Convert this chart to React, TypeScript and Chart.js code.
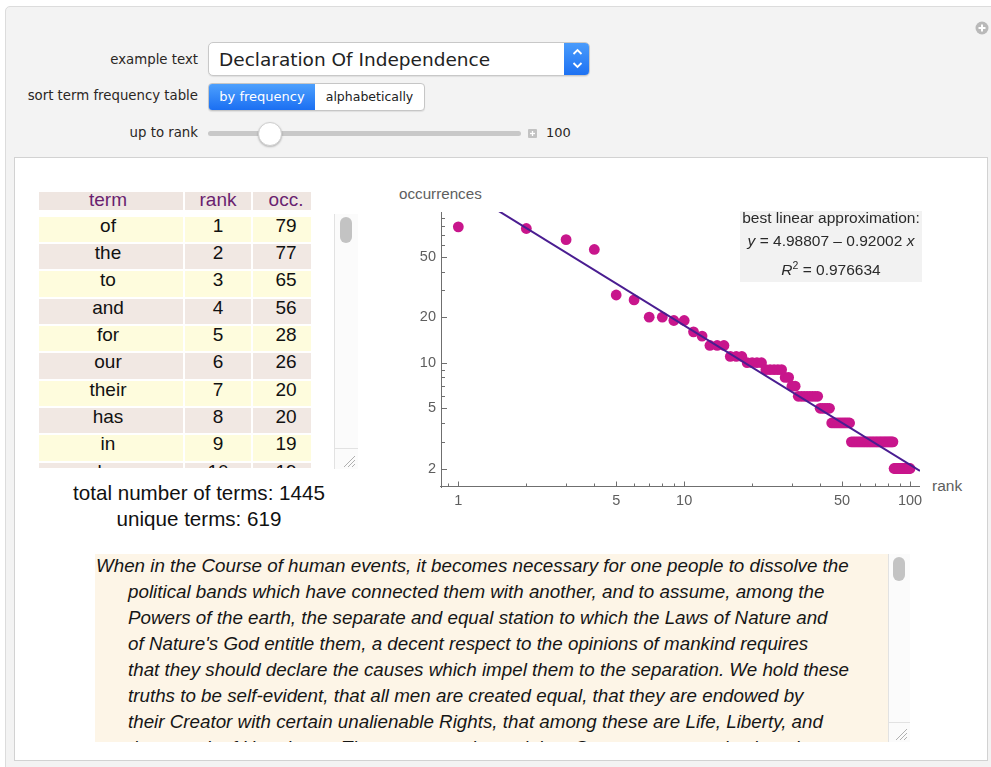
import React, { useEffect, useRef } from 'react';
import { Chart, registerables } from 'chart.js';

Chart.register(...registerables);

// ---------- chart data ----------
const ranks = [
  1, 2, 3, 4, 5, 6, 7, 8, 9, 10, 11, 12, 13, 14, 15, 16, 17, 18, 19, 20,
  21, 22, 23, 24, 25, 26, 27, 28, 29, 30, 31, 32, 33, 34, 35, 36, 37, 38, 39, 40,
  41, 42, 43, 44, 45, 46, 47, 48, 49, 50, 51, 52, 53, 54, 55, 56, 57, 58, 59, 60,
  61, 62, 63, 64, 65, 66, 67, 68, 69, 70, 71, 72, 73, 74, 75, 76, 77, 78, 79, 80,
  81, 82, 83, 84, 85, 86, 87, 88, 89, 90, 91, 92, 93, 94, 95, 96, 97, 98, 99, 100,
];
const occurrences = [
  79, 77, 65, 56, 28, 26, 20, 20, 19, 19, 16, 15, 13, 13, 13, 11, 11, 11, 10, 10,
  10, 10, 9, 9, 9, 9, 9, 8, 8, 7, 7, 6, 6, 6, 6, 6, 6, 6, 6, 5,
  5, 5, 5, 5, 4, 4, 4, 4, 4, 4, 4, 4, 4, 4, 3, 3, 3, 3, 3, 3,
  3, 3, 3, 3, 3, 3, 3, 3, 3, 3, 3, 3, 3, 3, 3, 3, 3, 3, 3, 3,
  3, 3, 3, 3, 2, 2, 2, 2, 2, 2, 2, 2, 2, 2, 2, 2, 2, 2, 2, 2,
];
const fitIntercept = 4.98807;
const fitSlope = -0.92002;
const rSquared = 0.976634;

const xTickValues = [0.9, 1, 2, 3, 4, 5, 6, 7, 8, 9, 10, 20, 30, 40, 50, 60, 70, 80, 90, 100];
const xTickLabels = [1, 5, 10, 50, 100];
const yTickValues = [2, 3, 4, 5, 6, 7, 8, 9, 10, 20, 30, 40, 50, 60, 70, 80, 90];
const yTickLabels = [2, 5, 10, 20, 50];
const X_MIN = 0.838;
const X_MAX = 110.7;
const Y_MIN = 1.533;
const Y_MAX = 99;

// ---------- table / text data ----------
const tableTerms = ['of', 'the', 'to', 'and', 'for', 'our', 'their', 'has', 'in', 'be'];
const tableRanks = [1, 2, 3, 4, 5, 6, 7, 8, 9, 10];
const tableOcc = [79, 77, 65, 56, 28, 26, 20, 20, 19, 19];
const totalTerms = 1445;
const uniqueTerms = 619;
const textLines = [
  'When in the Course of human events, it becomes necessary for one people to dissolve the',
  'political bands which have connected them with another, and to assume, among the',
  'Powers of the earth, the separate and equal station to which the Laws of Nature and',
  "of Nature's God entitle them, a decent respect to the opinions of mankind requires",
  'that they should declare the causes which impel them to the separation. We hold these',
  'truths to be self-evident, that all men are created equal, that they are endowed by',
  'their Creator with certain unalienable Rights, that among these are Life, Liberty, and',
  'the pursuit of Happiness. That to secure these rights, Governments are instituted among',
];

const SANS = "'Liberation Sans', Arial, Helvetica, sans-serif";
const UI = "'DejaVu Sans', 'Liberation Sans', sans-serif";
const AXIS_COLOR = '#6f6f6f';
const TICK_COLOR = '#5e5e5e';

const axesPlugin = {
  id: 'mmaAxes',
  beforeDatasetsDraw(chart: any) {
    const { ctx, chartArea, scales } = chart;
    const xs = scales.x;
    const ys = scales.y;
    const x0 = Math.round(chartArea.left) + 0.5;
    const y0 = Math.round(chartArea.bottom) + 0.5;
    ctx.save();
    ctx.strokeStyle = AXIS_COLOR;
    ctx.lineWidth = 1;
    ctx.beginPath();
    ctx.moveTo(x0, chartArea.top);
    ctx.lineTo(x0, y0 + 1.5);
    ctx.moveTo(x0 - 1.5, y0);
    ctx.lineTo(chartArea.right, y0);
    xTickValues.forEach((v) => {
      const px = Math.round(xs.getPixelForValue(v)) + 0.5;
      const len = xTickLabels.includes(v) ? 5 : 3;
      ctx.moveTo(px, y0);
      ctx.lineTo(px, y0 - len);
    });
    yTickValues.forEach((v) => {
      const py = Math.round(ys.getPixelForValue(v)) + 0.5;
      const len = yTickLabels.includes(v) ? 5.5 : 3.5;
      ctx.moveTo(x0, py);
      ctx.lineTo(x0 + len, py);
    });
    ctx.stroke();
    ctx.restore();
  },
};

function ZipfChart() {
  const ref = useRef<HTMLCanvasElement>(null);
  useEffect(() => {
    const fitRanks = [X_MIN, X_MAX];
    const fitValues = fitRanks.map((r) => Math.exp(fitIntercept + fitSlope * Math.log(r)));
    const chart = new Chart(ref.current as HTMLCanvasElement, {
      type: 'scatter',
      data: {
        datasets: [
          {
            data: fitRanks.map((r, i) => ({ x: r, y: fitValues[i] })),
            showLine: true,
            borderColor: '#4a1d91',
            borderWidth: 2,
            pointRadius: 0,
            order: 0,
          } as any,
          {
            data: ranks.map((r, i) => ({ x: r, y: occurrences[i] })),
            backgroundColor: '#c8168c',
            borderWidth: 0,
            pointRadius: 5.4,
            order: 1,
          } as any,
        ],
      },
      options: {
        animation: false,
        responsive: false,
        events: [],
        layout: { padding: { left: 10, top: 32, right: 60, bottom: 5 } },
        plugins: { legend: { display: false }, tooltip: { enabled: false } },
        scales: {
          x: {
            type: 'logarithmic',
            min: X_MIN,
            max: X_MAX,
            afterBuildTicks: (s: any) => {
              s.ticks = xTickValues.map((v) => ({ value: v }));
            },
            afterFit: (s: any) => {
              s.height = 34;
            },
            grid: { display: false, drawTicks: false },
            border: { display: false },
            ticks: {
              autoSkip: false,
              maxRotation: 0,
              padding: 6,
              color: TICK_COLOR,
              font: { family: SANS, size: 14.5 },
              callback: (v: any) => (xTickLabels.includes(Number(v)) ? String(v) : ''),
            },
          },
          y: {
            type: 'logarithmic',
            min: Y_MIN,
            max: Y_MAX,
            afterBuildTicks: (s: any) => {
              s.ticks = yTickValues.map((v) => ({ value: v }));
            },
            afterFit: (s: any) => {
              s.width = 51;
            },
            grid: { display: false, drawTicks: false },
            border: { display: false },
            ticks: {
              autoSkip: false,
              padding: 5,
              color: TICK_COLOR,
              font: { family: SANS, size: 14.5 },
              callback: (v: any) => (yTickLabels.includes(Number(v)) ? String(v) : ''),
            },
          },
        },
      },
      plugins: [axesPlugin],
    });
    return () => chart.destroy();
  }, []);
  return (
    <canvas
      ref={ref}
      width={600}
      height={345}
      style={{ position: 'absolute', left: 380, top: 180, width: 600, height: 345 }}
    />
  );
}

const abs = (l: number, t: number, extra: any = {}) => ({ position: 'absolute' as const, left: l, top: t, ...extra });

function Grip({ left, top }: { left: number; top: number }) {
  return (
    <svg style={abs(left, top)} width={14} height={14}>
      <line x1={2} y1={13} x2={13} y2={2} stroke="#b0b0b0" strokeWidth={1} />
      <line x1={6} y1={13} x2={13} y2={6} stroke="#b0b0b0" strokeWidth={1} />
      <line x1={10} y1={13} x2={13} y2={10} stroke="#b0b0b0" strokeWidth={1} />
    </svg>
  );
}

export default function App() {
  const colTerm = { left: 39, width: 144 };
  const colRank = { left: 185, width: 66 };
  const colOcc = { left: 253, width: 58 };
  const rowTop0 = 216.7;
  const rowPitch = 27.33;
  const rowH = 25.3;
  const cellFont = { fontFamily: SANS, fontSize: 19, lineHeight: '17px', color: '#111' };

  return (
    <div
      style={{
        position: 'fixed',
        left: 0,
        top: 0,
        width: 991,
        height: 767,
        overflow: 'hidden',
        background: '#ffffff',
        fontFamily: SANS,
      }}
    >
      {/* outer manipulate panel */}
      <div
        style={abs(5, 6, {
          width: 995,
          height: 775,
          background: '#f3f3f3',
          border: '1px solid #dcdcdc',
          borderRadius: 5,
        })}
      />
      {/* plus icon */}
      <svg style={abs(975, 21)} width={14} height={14}>
        <circle cx={7} cy={7} r={6.5} fill="#b9b9b9" />
        <line x1={3.5} y1={7} x2={10.5} y2={7} stroke="#fff" strokeWidth={2} />
        <line x1={7} y1={3.5} x2={7} y2={10.5} stroke="#fff" strokeWidth={2} />
      </svg>

      {/* control labels */}
      {[
        ['example text', 60],
        ['sort term frequency table', 96],
        ['up to rank', 133],
      ].map(([t, y]) => (
        <div
          key={t as string}
          style={abs(0, (y as number) - 9, {
            width: 198,
            textAlign: 'right',
            fontFamily: UI,
            fontSize: 13.3,
            lineHeight: '18px',
            color: '#2a2623',
            whiteSpace: 'nowrap',
          })}
        >
          {t}
        </div>
      ))}

      {/* dropdown */}
      <div
        style={abs(208, 42, {
          width: 382,
          height: 34,
          boxSizing: 'border-box',
          background: '#fff',
          border: '1px solid #c8c8c8',
          borderRadius: 5,
          boxShadow: '0 1px 1px rgba(0,0,0,0.08)',
          overflow: 'hidden',
        })}
      >
        <div
          style={abs(10, 6, {
            fontFamily: UI,
            fontSize: 18.5,
            lineHeight: '22px',
            color: '#222',
            whiteSpace: 'nowrap',
          })}
        >
          Declaration Of Independence
        </div>
        <div
          style={abs(355, -1, {
            width: 27,
            height: 34,
            background: 'linear-gradient(#4b9dfc, #1c70f2)',
          })}
        >
          <svg width={27} height={34}>
            <polyline points="9.5,12 13.5,8 17.5,12" fill="none" stroke="#fff" strokeWidth={1.8} />
            <polyline points="9.5,21 13.5,25 17.5,21" fill="none" stroke="#fff" strokeWidth={1.8} />
          </svg>
        </div>
      </div>

      {/* segmented control */}
      <div
        style={abs(208, 83, {
          width: 217,
          height: 28,
          boxSizing: 'border-box',
          background: '#fff',
          border: '1px solid #c6c6c6',
          borderRadius: 4,
          overflow: 'hidden',
          boxShadow: '0 1px 1px rgba(0,0,0,0.08)',
        })}
      >
        <div
          style={abs(0, 0, {
            width: 106,
            height: 26,
            background: 'linear-gradient(#4da0fd, #1b6ff2)',
            color: '#fff',
            fontFamily: UI,
            fontSize: 13,
            lineHeight: '26px',
            textAlign: 'center',
            whiteSpace: 'nowrap',
          })}
        >
          by frequency
        </div>
        <div
          style={abs(106, 0, {
            width: 109,
            height: 26,
            color: '#222',
            fontFamily: UI,
            fontSize: 12.5,
            lineHeight: '26px',
            textAlign: 'center',
            whiteSpace: 'nowrap',
          })}
        >
          alphabetically
        </div>
      </div>

      {/* slider */}
      <div style={abs(208, 131, { width: 313, height: 5, background: '#c8c8c8', borderRadius: 3 })} />
      <div
        style={abs(257.5, 122, {
          width: 24,
          height: 24,
          boxSizing: 'border-box',
          borderRadius: 12,
          background: '#fff',
          border: '1px solid #cfcfcf',
          boxShadow: '0 1px 2px rgba(0,0,0,0.25)',
        })}
      />
      <svg style={abs(528, 129)} width={9} height={9}>
        <rect x={0} y={0} width={9} height={9} rx={1} fill="#c2c2c2" />
        <line x1={2} y1={4.5} x2={7} y2={4.5} stroke="#fff" strokeWidth={1.3} />
        <line x1={4.5} y1={2} x2={4.5} y2={7} stroke="#fff" strokeWidth={1.3} />
      </svg>
      <div style={abs(546, 124, { fontFamily: UI, fontSize: 13, lineHeight: '18px', color: '#2a2623' })}>100</div>

      {/* inner white content panel */}
      <div
        style={abs(14, 157, {
          width: 974,
          height: 604,
          boxSizing: 'border-box',
          background: '#fff',
          border: '1px solid #d2d2d2',
        })}
      />

      {/* table header */}
      {[
        ['term', colTerm, 6, 0],
        ['rank', colRank, 0, 0],
        ['occ.', colOcc, 0, 8],
      ].map(([t, c, pr, pl]: any) => (
        <div
          key={t}
          style={abs(c.left, 191.7, {
            width: c.width,
            height: 18.5,
            boxSizing: 'border-box',
            paddingRight: pr,
            paddingLeft: pl,
            background: '#efe6e1',
            textAlign: 'center',
            fontFamily: SANS,
            fontSize: 19,
            lineHeight: '16px',
            color: '#6a1f70',
          })}
        >
          {t}
        </div>
      ))}

      {/* table body */}
      <div style={abs(0, 212, { width: 334, height: 256, overflow: 'hidden' })}>
        {tableTerms.map((term, i) => {
          const bg = i % 2 === 0 ? '#fefcdd' : '#f1e8e3';
          const top = rowTop0 + i * rowPitch - 212;
          return (
            <React.Fragment key={term}>
              <div
                style={abs(colTerm.left, top, {
                  width: colTerm.width,
                  height: rowH,
                  boxSizing: 'border-box',
                  paddingRight: 6,
                  background: bg,
                  textAlign: 'center',
                  ...cellFont,
                })}
              >
                {term}
              </div>
              <div
                style={abs(colRank.left, top, {
                  width: colRank.width,
                  height: rowH,
                  background: bg,
                  textAlign: 'center',
                  ...cellFont,
                })}
              >
                {tableRanks[i]}
              </div>
              <div
                style={abs(colOcc.left, top, {
                  width: colOcc.width,
                  height: rowH,
                  boxSizing: 'border-box',
                  paddingLeft: 8,
                  background: bg,
                  textAlign: 'center',
                  ...cellFont,
                })}
              >
                {tableOcc[i]}
              </div>
            </React.Fragment>
          );
        })}
      </div>
      {/* table scrollbar */}
      <div
        style={abs(334, 214, {
          width: 24,
          height: 255,
          boxSizing: 'border-box',
          background: '#fbfbfb',
          borderLeft: '1px solid #e2e2e2',
        })}
      />
      <div style={abs(340, 217, { width: 12, height: 26, background: '#c3c3c3', borderRadius: 6 })} />
      <div style={abs(335, 448, { width: 23, height: 1, background: '#e2e2e2' })} />
      <Grip left={342} top={454} />

      <div
        style={abs(49, 482, {
          width: 300,
          textAlign: 'center',
          fontFamily: SANS,
          fontSize: 20.6,
          lineHeight: '22px',
          color: '#111',
          whiteSpace: 'nowrap',
        })}
      >
        total number of terms: {totalTerms}
      </div>
      <div
        style={abs(49, 508, {
          width: 300,
          textAlign: 'center',
          fontFamily: SANS,
          fontSize: 20.6,
          lineHeight: '22px',
          color: '#111',
          whiteSpace: 'nowrap',
        })}
      >
        unique terms: {uniqueTerms}
      </div>

      {/* chart */}
      <div style={abs(399, 185, { fontFamily: SANS, fontSize: 15.2, lineHeight: '18px', color: '#5e5e5e' })}>
        occurrences
      </div>
      <div style={abs(932, 477, { fontFamily: SANS, fontSize: 15.5, lineHeight: '18px', color: '#5e5e5e' })}>
        rank
      </div>
      <ZipfChart />
      <div
        style={abs(740, 211, {
          width: 182,
          height: 71,
          background: '#f2f2f2',
          fontFamily: SANS,
          fontSize: 15.5,
          color: '#2a2a2a',
          textAlign: 'center',
          whiteSpace: 'nowrap',
        })}
      >
        <div style={abs(0, -2, { width: 182, lineHeight: '18px' })}>best linear approximation:</div>
        <div style={abs(0, 21, { width: 182, lineHeight: '18px' })}>
          <i>y</i> = {fitIntercept} – {Math.abs(fitSlope).toFixed(5)} <i>x</i>
        </div>
        <div style={abs(0, 45, { width: 182, lineHeight: '18px' })}>
          <i>R</i>
          <sup style={{ fontSize: 10.5, verticalAlign: 6 }}>2</sup> = {rSquared}
        </div>
      </div>

      {/* declaration text */}
      <div
        style={abs(95, 554, {
          width: 793,
          height: 188,
          background: '#fdf5e7',
          overflow: 'hidden',
        })}
      >
        {textLines.map((line, i) => (
          <div
            key={i}
            style={abs(i === 0 ? 1 : 33, -1 + i * 26, {
              fontFamily: SANS,
              fontStyle: 'italic',
              fontSize: 18.8,
              lineHeight: '26px',
              color: '#161616',
              whiteSpace: 'nowrap',
            })}
          >
            {line}
          </div>
        ))}
      </div>
      <div
        style={abs(888, 554, {
          width: 22,
          height: 188,
          boxSizing: 'border-box',
          background: '#fbfbfb',
          borderLeft: '1px solid #e2e2e2',
        })}
      />
      <div style={abs(893, 557, { width: 12, height: 24, background: '#c3c3c3', borderRadius: 6 })} />
      <div style={abs(889, 722, { width: 21, height: 1, background: '#e2e2e2' })} />
      <Grip left={894} top={727} />
    </div>
  );
}
